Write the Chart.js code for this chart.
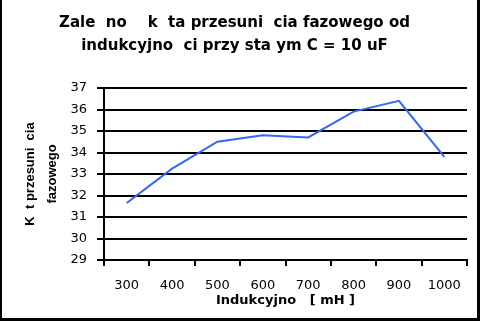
<!DOCTYPE html>
<html>
<head>
<meta charset="utf-8">
<script src="https://cdn.jsdelivr.net/npm/chart.js@4"></script>
<style>
  html, body { margin: 0; padding: 0; background: #fff; }
  #wrap { width: 480px; height: 321px; }
</style>
</head>
<body>
<div id="wrap"><canvas id="myChart" width="480" height="321"></canvas></div>
<script>
const categories = ["300", "400", "500", "600", "700", "800", "900", "1000"];
const phaseValues = [31.65, 33.25, 34.5, 34.8, 34.7, 35.9, 36.4, 33.8];
const yTicks = [29, 30, 31, 32, 33, 34, 35, 36, 37];

Chart.defaults.font.family = "DejaVu Sans, Arial, sans-serif";
Chart.defaults.color = "#000";

// frame around the picture (no top edge in the reference)
const framePlugin = {
  id: "frame",
  afterDraw(chart) {
    const c = chart.ctx;
    c.save();
    c.fillStyle = "#000";
    c.fillRect(0, 0, 2, 321);
    c.fillRect(477, 0, 3, 321);
    c.fillRect(0, 318, 480, 3);
    c.restore();
  },
};

const ctx = document.getElementById("myChart").getContext("2d");
new Chart(ctx, {
  type: "line",
  data: {
    labels: categories,
    datasets: [
      {
        data: phaseValues,
        borderColor: "#3366ff",
        borderWidth: 2,
        pointRadius: 0,
        tension: 0,
        fill: false,
      },
    ],
  },
  options: {
    responsive: false,
    animation: false,
    layout: { padding: { left: 2, right: 13, top: 0, bottom: 3 } },
    plugins: {
      legend: { display: false },
      tooltip: { enabled: false },
      title: {
        display: true,
        text: ["Zale  no    k  ta przesuni  cia fazowego od", "indukcyjno  ci przy sta ym C = 10 uF"],
        font: { size: 15, weight: "bold", lineHeight: 1.5 },
        padding: { top: 12, bottom: 31 },
      },
    },
    scales: {
      x: {
        offset: true,
        grid: {
          offset: true,
          drawOnChartArea: false,
          color: "#000",
          lineWidth: 2,
          tickLength: 6,
        },
        border: { display: true, color: "#000", width: 2 },
        ticks: { font: { size: 13 }, padding: 12, maxRotation: 0 },
        title: {
          display: true,
          text: "Indukcyjno   [ mH ]",
          font: { size: 13, weight: "bold", lineHeight: 1.2 },
          padding: { top: 0, bottom: 10 },
        },
        afterFit(s) { s.height = 58; },
      },
      y: {
        min: 29,
        max: 37,
        afterBuildTicks(s) { s.ticks = yTicks.map(v => ({ value: v })); },
        grid: { color: "#000", lineWidth: 2, tickLength: 7 },
        border: { display: true, color: "#000", width: 2 },
        ticks: { font: { size: 13 }, padding: 10 },
        title: {
          display: true,
          text: ["K  t przesuni  cia", "fazowego"],
          font: { family: "Liberation Sans, Arial, sans-serif", size: 13, weight: "bold", lineHeight: 1.7 },
          padding: { top: 17, bottom: 0 },
        },
        afterFit(s) { s.width = 102; },
      },
    },
  },
  plugins: [framePlugin],
});
</script>
</body>
</html>
